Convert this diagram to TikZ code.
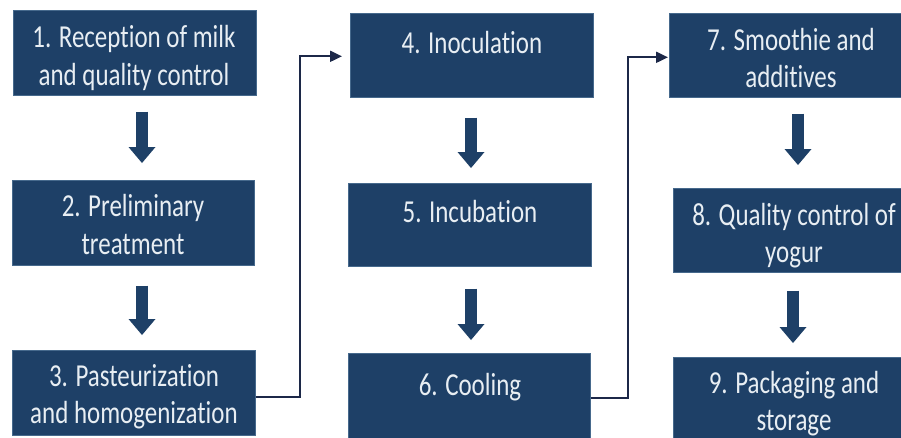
\documentclass[tikz,border=0pt]{standalone}
\usepackage{fontspec}
\setmainfont{Carlito}[FakeStretch=0.78,Ligatures=NoCommon]
\usetikzlibrary{arrows.meta,calc}
\definecolor{boxblue}{RGB}{30,64,103}
\definecolor{boxedge}{RGB}{70,105,140}
\definecolor{txt}{RGB}{232,238,243}
\definecolor{conn}{RGB}{28,40,72}
\begin{document}
\begin{tikzpicture}[x=1pt,y=-1pt,
  box/.style={fill=boxblue, draw=boxedge, line width=0.6pt, anchor=north west, inner sep=0pt},
  lbl/.style={text=txt, anchor=base, inner sep=0pt, font=\fontsize{32}{38}\selectfont},
  barrow/.style={draw=boxblue, line width=11.5pt, -{Triangle[width=27pt,length=16pt,line width=0pt]}},
  elbow/.style={draw=conn, line width=2pt, -{Triangle[width=11pt,length=12pt]}}]
\useasboundingbox (0,0) rectangle (901,437);
\clip (0,0) rectangle (901,437);
% boxes
\node[box, minimum width=243pt, minimum height=85pt] (b1) at (13,10) {};
\node[box, minimum width=242pt, minimum height=85pt] (b2) at (12,180) {};
\node[box, minimum width=243pt, minimum height=85pt] (b3) at (12,350) {};
\node[box, minimum width=243pt, minimum height=84pt] (b4) at (350,13) {};
\node[box, minimum width=243pt, minimum height=83pt] (b5) at (348,183) {};
\node[box, minimum width=242pt, minimum height=85pt] (b6) at (348,353) {};
\node[box, minimum width=244pt, minimum height=84pt] (b7) at (669,13) {};
\node[box, minimum width=240pt, minimum height=84pt] (b8) at (673,188) {};
\node[box, minimum width=240pt, minimum height=85pt] (b9) at (673,357) {};
% labels
\node[lbl] (t1a) at (134,47) {1. Reception of milk};
\node[lbl] (t1b) at (134,85) {and quality control};
\node[lbl] (t2a) at (133,216) {2. Preliminary};
\node[lbl] (t2b) at (133,254) {treatment};
\node[lbl] (t3a) at (134,386) {3. Pasteurization};
\node[lbl] (t3b) at (134,423) {and homogenization};
\node[lbl] (t4) at (472,53) {4. Inoculation};
\node[lbl] (t5) at (470,222) {5. Incubation};
\node[lbl] (t6) at (470,395) {6. Cooling};
\node[lbl] (t7a) at (791,50) {7. Smoothie and};
\node[lbl] (t7b) at (791,87) {additives};
\node[lbl] (t8a) at (794,225) {8. Quality control of};
\node[lbl] (t8b) at (794,262) {yogur};
\node[lbl] (t9a) at (794,393) {9. Packaging and};
\node[lbl] (t9b) at (794,430) {storage};
% block arrows
\draw[barrow] ($(b1.south west)+(129,16)$) -- ($(b2.north west)+(130,-17)$);
\draw[barrow] ($(b2.south west)+(130,20)$) -- ($(b3.north west)+(130,-15)$);
\draw[barrow] ($(b4.south west)+(121,20)$) -- ($(b5.north west)+(123,-15)$);
\draw[barrow] ($(b5.south west)+(123,22)$) -- ($(b6.north west)+(123,-13)$);
\draw[barrow] ($(b7.south west)+(129,16)$) -- ($(b8.north west)+(125,-23)$);
\draw[barrow] ($(b8.south west)+(120,18)$) -- ($(b9.north west)+(120,-14)$);
% elbow connectors
\draw[elbow] ($(b3.east)+(0,4.5)$) -- ++(44,0) |- ($(b4.west)+(-8,1)$);
\draw[elbow] ($(b6.east)+(0,2)$) -- ++(37,0) |- ($(b7.west)+(-1,2)$);
\end{tikzpicture}
\end{document}
